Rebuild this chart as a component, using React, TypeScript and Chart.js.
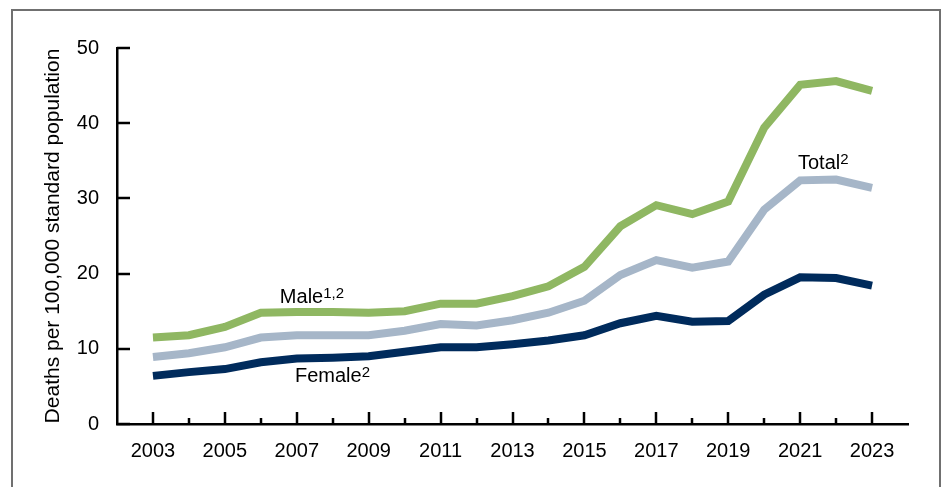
import React, { useEffect, useRef } from "react";
import { Chart, registerables } from "chart.js";

Chart.register(...registerables);

const years = [2003, 2004, 2005, 2006, 2007, 2008, 2009, 2010, 2011, 2012, 2013, 2014, 2015, 2016, 2017, 2018, 2019, 2020, 2021, 2022, 2023];
const male = [11.5, 11.8, 12.9, 14.8, 14.9, 14.9, 14.8, 15.0, 16.0, 16.0, 17.0, 18.3, 20.9, 26.3, 29.1, 27.9, 29.6, 39.4, 45.1, 45.6, 44.3];
const total = [8.9, 9.4, 10.2, 11.5, 11.8, 11.8, 11.8, 12.4, 13.3, 13.1, 13.8, 14.8, 16.4, 19.8, 21.8, 20.8, 21.6, 28.5, 32.4, 32.5, 31.4];
const female = [6.4, 6.9, 7.3, 8.2, 8.7, 8.8, 9.0, 9.6, 10.2, 10.2, 10.6, 11.1, 11.8, 13.4, 14.4, 13.6, 13.7, 17.2, 19.5, 19.4, 18.4];
const xTickLabels = ["2003", "2005", "2007", "2009", "2011", "2013", "2015", "2017", "2019", "2021", "2023"];
const yTicks = [0, 10, 20, 30, 40, 50];
const yTitle = "Deaths per 100,000 standard population";
// label text, superscript, anchor year, anchor value (baseline)
const seriesLabels = [
  { text: "Male", sup: "1,2", x: 2006.53, y: 16.1 },
  { text: "Female", sup: "2", x: 2006.95, y: 5.6 },
  { text: "Total", sup: "2", x: 2020.94, y: 33.9 },
];

const FONT = "Arial, 'Liberation Sans', sans-serif";

const decorPlugin = {
  id: "decor",
  afterDraw(chart: any) {
    const { ctx, chartArea, scales } = chart;
    const xs = scales.x;
    const ys = scales.y;
    ctx.save();
    ctx.strokeStyle = "#000";
    ctx.lineWidth = 2.5;
    ctx.lineCap = "butt";
    yTicks.forEach((v) => {
      const y = Math.round(ys.getPixelForValue(v));
      ctx.beginPath();
      ctx.moveTo(chartArea.left, y);
      ctx.lineTo(chartArea.left + 13, y);
      ctx.stroke();
    });
    years.forEach((yr) => {
      const x = Math.round(xs.getPixelForValue(yr));
      const major = xTickLabels.includes(String(yr));
      ctx.beginPath();
      ctx.moveTo(x, chartArea.bottom);
      ctx.lineTo(x, chartArea.bottom - (major ? 12 : 6));
      ctx.stroke();
    });
    ctx.fillStyle = "#000";
    ctx.textBaseline = "alphabetic";
    ctx.textAlign = "left";
    seriesLabels.forEach((l) => {
      const x = xs.getPixelForValue(l.x);
      const y = ys.getPixelForValue(l.y);
      ctx.font = `20px ${FONT}`;
      ctx.fillText(l.text, x, y);
      const w = ctx.measureText(l.text).width;
      ctx.font = `15px ${FONT}`;
      ctx.fillText(l.sup, x + w, y - 5);
    });
    ctx.restore();
  },
};

export default function App() {
  const ref = useRef<HTMLCanvasElement>(null);
  useEffect(() => {
    if (!ref.current) return;
    const mk = (arr: number[]) => arr.map((v, i) => ({ x: years[i], y: v }));
    const chart = new Chart(ref.current, {
      type: "line",
      data: {
        datasets: [
          { label: "Male", data: mk(male), borderColor: "#8FB762", borderWidth: 8, pointRadius: 0, tension: 0, borderCapStyle: "butt", borderJoinStyle: "miter" },
          { label: "Total", data: mk(total), borderColor: "#A6B6C8", borderWidth: 8, pointRadius: 0, tension: 0, borderCapStyle: "butt", borderJoinStyle: "miter" },
          { label: "Female", data: mk(female), borderColor: "#002B5C", borderWidth: 8, pointRadius: 0, tension: 0, borderCapStyle: "butt", borderJoinStyle: "miter" },
        ],
      },
      options: {
        responsive: false,
        animation: false,
        layout: { padding: { left: 0, top: 48, right: 35, bottom: 0 } },
        plugins: { legend: { display: false }, tooltip: { enabled: false } },
        scales: {
          x: {
            type: "linear",
            min: 2002,
            max: 2024,
            grid: { display: false, drawTicks: false },
            border: { display: true, color: "#000", width: 2.5 },
            ticks: {
              stepSize: 1,
              autoSkip: false,
              maxRotation: 0,
              padding: 15,
              color: "#000",
              font: { family: FONT, size: 20 },
              callback: (v: any) => (xTickLabels.includes(String(v)) ? String(v) : ""),
            },
            afterFit: (s: any) => { s.height = 63; },
          },
          y: {
            min: 0,
            max: 50,
            grid: { display: false, drawTicks: false },
            border: { display: true, color: "#000", width: 2.5 },
            ticks: {
              stepSize: 10,
              padding: 18,
              color: "#000",
              font: { family: FONT, size: 20 },
            },
            title: {
              display: true,
              text: yTitle,
              color: "#000",
              font: { family: FONT, size: 21 },
              padding: { top: 41, bottom: 0 },
            },
            afterFit: (s: any) => { s.width = 117; },
          },
        },
      },
      plugins: [decorPlugin],
    } as any);
    return () => chart.destroy();
  }, []);
  return (
    <div style={{ position: "fixed", left: 0, top: 0, width: 943, height: 487, overflow: "hidden", background: "#fff" }}>
      <div style={{ position: "absolute", left: 11, top: 9, width: 926, height: 600, border: "2px solid #707070", boxSizing: "content-box" }} />
      <canvas ref={ref} width={943} height={487} style={{ position: "absolute", left: 0, top: 0 }} />
    </div>
  );
}
